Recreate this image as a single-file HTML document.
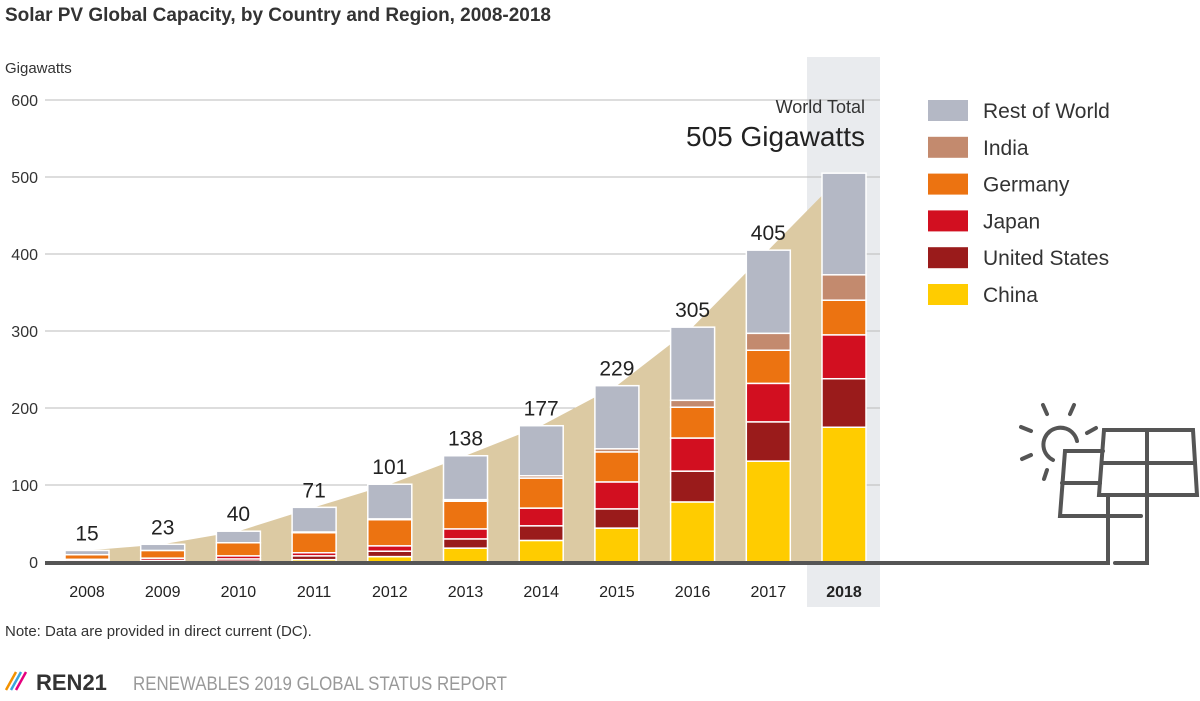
<!DOCTYPE html>
<html><head><meta charset="utf-8"><style>
body{margin:0;background:#fff;width:1200px;height:696px;overflow:hidden;font-family:"Liberation Sans",sans-serif}
svg text{font-family:"Liberation Sans",sans-serif}
</style></head><body>
<svg id="chart" width="1200" height="696" viewBox="0 0 1200 696">
<text x="5" y="21" font-size="19" font-weight="bold" fill="#333" textLength="546">Solar PV Global Capacity, by Country and Region, 2008-2018</text>
<text x="5" y="73" font-size="15" fill="#333">Gigawatts</text>
<rect x="807" y="57" width="73" height="550" fill="#e9ebee"/>
<g id="grid"></g>
<polygon id="area" fill="#dccaa3"/>
<g id="bars"></g>
<g id="labels"></g>
<text x="865" y="113" font-size="18" fill="#333" text-anchor="end">World Total</text>
<text x="865" y="146" font-size="28" fill="#222" text-anchor="end">505 Gigawatts</text>
<g id="legend"></g>
<line x1="45" y1="563" x2="1110" y2="563" stroke="#555" stroke-width="4"/>
<g stroke="#555" stroke-width="4" fill="none" stroke-linecap="round">
<polygon points="1104,430 1193,430 1197,495 1099,495"/>
<line x1="1147" y1="430" x2="1147" y2="495"/><line x1="1102" y1="463" x2="1195" y2="463"/>
<polyline points="1103,451 1065,451 1060,516 1141,516"/>
<line x1="1062" y1="483" x2="1100" y2="483"/>
<polyline points="1108,495 1108,563"/>
<polyline points="1147,495 1147,563 1115,563"/>
<path d="M1077,441 A17,17 0 1 0 1053,460"/>
<line x1="1043" y1="405" x2="1047" y2="414"/><line x1="1074" y1="405" x2="1070" y2="414"/>
<line x1="1021" y1="427" x2="1031" y2="431"/><line x1="1087" y1="433" x2="1096" y2="428"/>
<line x1="1022" y1="459" x2="1031" y2="455"/><line x1="1047" y1="470" x2="1044" y2="479"/>
</g>
<text x="5" y="636" font-size="15" fill="#333">Note: Data are provided in direct current (DC).</text>
<g>
<line x1="6" y1="690" x2="16" y2="672" stroke="#f39200" stroke-width="2.5"/>
<line x1="11" y1="690" x2="21" y2="672" stroke="#3aa6dd" stroke-width="2.5"/>
<line x1="16" y1="690" x2="26" y2="672" stroke="#e6007e" stroke-width="2.5"/>
<text x="36" y="690" font-size="22" font-weight="bold" fill="#333">REN21</text>
</g>
<text x="133" y="690" font-size="19" fill="#999" textLength="374" lengthAdjust="spacingAndGlyphs">RENEWABLES 2019 GLOBAL STATUS REPORT</text>
</svg>
<script>
const years=["2008","2009","2010","2011","2012","2013","2014","2015","2016","2017","2018"];
const totals=[15,23,40,71,101,138,177,229,305,405,505];
const china=[0.5,0.5,1,3,7,18,28,44,78,131,175];
const us=[1,1.5,3,5,7,12,19,25,40,51,63];
const japan=[2,3,4,4,7,13,23,35,43,50,57];
const germany=[6,10,17,26,34,36,39,39,40,43,45];
const india=[0,0,0,1,1,2,3,4,9,22,33];
const yTicks=[0,100,200,300,400,500,600];
const seriesNames=["China","United States","Japan","Germany","India","Rest of World"];
const seriesColors=["#ffcc00","#9a1b1b","#d20f20","#ec7311","#c38a6e","#b4b8c5"];
const NS="http://www.w3.org/2000/svg";
const y=v=>562-v*0.77;
const x=i=>87+i*75.7;
const bw=44;
function mk(tag,attrs,parent){const e=document.createElementNS(NS,tag);for(const k in attrs)e.setAttribute(k,attrs[k]);parent.appendChild(e);return e;}
const grid=document.getElementById('grid');
yTicks.forEach(t=>{
 if(t>0){const l=mk('line',{x1:45,x2:880,y1:y(t),y2:y(t),stroke:'#bbb','stroke-width':1},grid);
 
 }
 const tx=mk('text',{x:38,y:y(t)+6,'font-size':16,fill:'#333','text-anchor':'end'},grid);
 tx.textContent=t;
 
 
});
document.getElementById('area').setAttribute('points',
 [[x(0),562]].concat(totals.map((v,i)=>[x(i),y(v)])).concat([[x(10),562]]).map(p=>p.join(',')).join(' '));
const bars=document.getElementById('bars'),labels=document.getElementById('labels');
years.forEach((yr,i)=>{
 const rest=totals[i]-china[i]-us[i]-japan[i]-germany[i]-india[i];
 const vals=[china[i],us[i],japan[i],germany[i],india[i],rest];
 let acc=0;
 vals.forEach((v,s)=>{
  if(v<=0)return;
  const r=mk('rect',{x:x(i)-bw/2,y:y(acc+v),width:bw,height:v*0.77,fill:seriesColors[s],stroke:'#fff','stroke-width':1.5},bars);
  
  
  acc+=v;
 });
 if(i<10){const t=mk('text',{x:x(i),y:y(totals[i])-10,'font-size':21,fill:'#222','text-anchor':'middle'},labels);
 t.textContent=totals[i];
 
 }
 const xl=mk('text',{x:x(i),y:597,'font-size':16,fill:'#222','text-anchor':'middle','font-weight':i==10?'bold':'normal'},labels);
 xl.textContent=yr;
 
 
});
const lg=document.getElementById('legend');
[5,4,3,2,1,0].forEach((s,k)=>{
 const yy=110+k*36.8;
 const r=mk('rect',{x:928,y:yy-10,width:40,height:21,fill:seriesColors[s]},lg);
 
 
 const t=mk('text',{x:983,y:yy+8,'font-size':21,fill:'#333'},lg);
 t.textContent=seriesNames[s];
 
 
});
</script>
</body></html>
